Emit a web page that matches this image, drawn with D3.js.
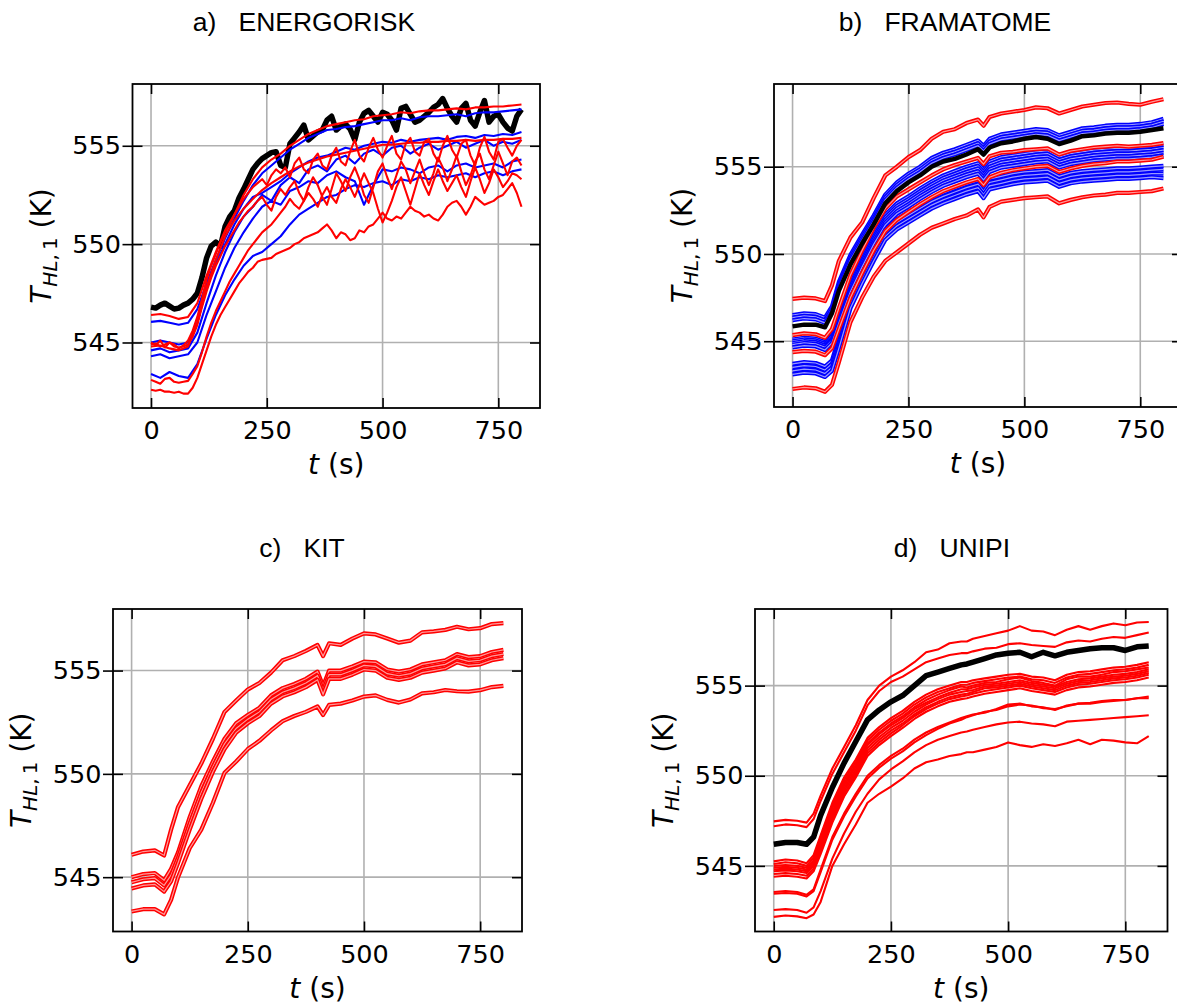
<!DOCTYPE html>
<html>
<meta charset="utf-8">
<script src="https://cdn.jsdelivr.net/npm/d3@7/dist/d3.min.js"></script>
<style>
body{ margin:0; background:white; }
.tick text{ font-family:"DejaVu Sans"; font-size:25.5px; fill:black; }
.title{ font-family:"Liberation Sans", Arial; font-size:26.5px; white-space:pre; }
.axlabel{ font-family:"DejaVu Sans"; font-size:28px; }
</style>
<body>
<div id="fig"></div>

<script>
// time grids (s)
var tA10 = [0,10,20,30,40,50,60,70,80,90,100,110,120,130,140,150,160,170,180,190,200,210,220,230,240,250,260,270,280,290,300,310,320,330,340,350,360,370,380,390,400,410,420,430,440,450,460,470,480,490,500,510,520,530,540,550,560,570,580,590,600,610,620,630,640,650,660,670,680,690,700,710,720,730,740,750,760,770,780,790,800];
var tA = [0,20,40,60,80,100,120,140,160,180,200,220,240,260,280,300,320,340,360,380,400,420,440,460,480,500,520,540,560,580,600,620,640,660,680,700,720,740,760,780,800];
var tG = [0,25,50,70,85,100,125,150,175,200,225,250,275,300,325,350,375,400,412,425,450,475,500,525,550,575,600,625,650,675,700,725,750,775,800];

var xTicks = [0,250,500,750];
var yTicks = [545,550,555];
var xLimits = [-40,840];
var titles = ["a)   ENERGORISK","b)   FRAMATOME","c)   KIT","d)   UNIPI"];

// ---- a) ENERGORISK
var aBlack = [546.8,546.75,546.9,547.0,546.85,546.7,546.75,546.9,547.0,547.2,547.5,548.3,549.3,549.9,550.1,549.9,550.9,551.4,551.7,552.35,552.8,553.3,553.8,554.1,554.35,554.5,554.65,554.7,554.0,553.9,555.1,555.4,555.7,556.05,555.3,555.5,555.7,555.8,556.3,556.5,555.8,556.0,556.1,555.85,555.3,556.2,556.65,556.8,556.5,556.2,556.7,556.6,556.3,555.8,556.9,557.0,556.6,556.2,556.3,556.5,556.7,556.95,557.1,557.4,556.9,556.5,556.2,556.9,557.15,556.3,556.0,556.7,557.3,556.2,556.5,556.6,556.2,555.9,555.75,556.5,556.85];
var aRed1 = [546.4,546.45,546.35,546.2,546.3,547.0,548.4,549.6,550.7,551.5,552.5,553.3,553.9,554.3,554.6,555.0,555.3,555.6,555.8,556.0,556.1,556.2,556.3,556.35,556.5,556.55,556.6,556.7,556.65,556.75,556.8,556.8,556.85,556.9,556.85,556.95,556.95,557.0,557.0,557.05,557.1];
var aRed2 = [545.0,544.85,545.1,544.75,545.0,544.9,544.7,544.85,545.1,545.6,546.3,547.2,548.2,548.9,549.5,550.1,550.6,551.0,551.5,551.9,552.3,552.6,552.9,553.1,553.3,553.0,553.5,553.8,553.6,553.9,553.4,554.1,554.4,553.8,553.6,554.3,554.6,554.0,553.8,554.5,554.9,554.2,554.0,554.7,555.3,554.5,554.2,554.9,555.4,554.8,554.4,555.0,555.5,554.6,554.3,555.1,555.4,554.7,554.5,555.2,555.35,554.6,554.2,555.0,555.5,554.8,554.4,555.1,555.3,554.5,554.0,554.9,555.45,554.7,554.3,555.2,555.35,554.9,554.5,555.0,555.3];
var aRed3 = [544.8,544.85,544.7,544.6,544.8,546.0,547.8,549.2,550.4,551.2,551.8,552.3,552.75,553.1,553.4,553.7,553.95,554.15,554.3,554.45,554.55,554.65,554.75,554.85,554.95,555.05,555.05,555.1,555.15,555.15,555.2,555.2,555.25,555.25,555.3,555.25,555.3,555.3,555.35,555.35,555.4];
var aRed4 = [543.1,543.0,542.9,543.15,543.2,543.0,542.95,543.0,543.05,543.4,543.8,544.5,545.3,546.0,546.6,547.1,547.6,548.1,548.5,548.9,549.3,549.7,550.0,550.3,550.6,550.8,551.0,551.3,551.6,551.9,552.3,552.0,551.8,552.2,552.6,552.3,551.9,552.5,552.9,552.4,552.1,552.8,553.3,552.9,552.4,553.0,553.6,553.1,552.6,551.8,551.1,551.6,552.2,552.9,553.4,552.7,552.0,552.8,553.6,553.0,552.5,553.2,553.8,553.2,552.7,553.1,553.5,552.9,552.4,553.2,553.9,553.3,552.6,553.1,553.8,553.4,552.9,553.2,553.6,553.5,553.3];
var aRed5 = [542.6,542.55,542.6,542.5,542.5,542.45,542.5,542.4,542.4,542.7,543.2,543.9,544.6,545.3,545.9,546.4,546.8,547.2,547.6,548.0,548.3,548.6,548.8,549.1,549.2,549.25,549.3,549.5,549.6,549.7,549.8,550.0,550.1,550.3,550.4,550.5,550.6,550.8,551.0,550.7,550.3,550.6,550.5,550.2,550.3,550.7,550.6,550.9,551.0,551.3,551.6,551.3,551.2,551.4,551.3,551.6,551.9,551.7,551.6,551.4,551.5,551.3,551.2,551.5,551.9,552.1,552.2,551.9,551.5,551.9,552.4,552.2,552.0,552.1,552.2,552.4,552.5,552.8,553.1,552.6,551.9];
var aRed6 = [544.9,544.95,544.8,544.9,545.0,544.8,544.75,544.8,544.9,545.3,545.9,546.8,547.6,548.3,548.9,549.4,549.9,550.3,550.7,551.1,551.4,551.7,551.9,552.2,552.4,552.0,551.7,552.4,552.8,552.5,552.9,553.2,552.6,552.2,552.9,553.4,553.0,552.4,552.0,552.8,553.6,553.2,552.7,553.4,553.9,553.3,552.5,552.1,552.9,553.7,554.1,553.4,552.8,553.5,554.2,553.8,553.1,553.7,554.3,553.6,553.0,553.6,554.4,553.9,553.2,553.8,554.5,553.7,553.0,553.5,554.2,554.6,553.8,553.3,554.0,554.7,554.1,553.5,554.2,554.4,554.0];
var aBlue1 = [546.05,546.1,546.0,545.9,546.0,546.7,548.0,549.2,550.3,551.3,552.2,553.0,553.6,554.0,554.4,554.8,555.1,555.4,555.6,555.8,555.85,555.95,556.0,556.1,556.2,556.3,556.3,556.4,556.3,556.45,556.5,556.5,556.55,556.6,556.5,556.65,556.7,556.7,556.75,556.8,556.85];
var aBlue2 = [545.0,545.1,545.0,544.9,545.0,546.0,547.8,549.0,550.0,551.0,551.8,552.4,552.6,552.9,553.2,553.6,553.9,554.2,554.4,554.5,554.7,554.9,554.8,555.0,555.1,555.2,555.15,555.3,555.2,555.3,555.35,555.4,555.3,555.45,555.5,555.4,555.55,555.5,555.6,555.55,555.7];
var aBlue3 = [544.6,544.7,544.5,544.6,544.7,545.5,547.0,548.4,549.6,550.6,551.4,551.9,552.5,552.2,553.0,553.4,553.1,553.8,554.0,553.7,554.3,554.5,554.1,554.6,554.8,554.5,554.9,555.0,554.6,554.9,555.1,554.8,555.0,555.2,554.9,555.1,555.3,555.0,555.2,555.1,555.3];
var aBlue4 = [544.3,544.4,544.2,544.3,544.4,545.0,546.4,547.6,548.8,549.8,550.6,551.3,551.9,552.2,552.0,552.7,552.9,553.2,553.1,553.5,553.7,553.4,553.2,552.0,553.0,553.8,553.7,553.9,553.8,553.6,553.9,554.0,553.7,554.0,554.1,553.9,554.0,554.1,553.9,554.2,554.3];
var aBlue5 = [543.4,543.2,543.5,543.3,543.2,543.9,545.2,546.4,547.4,548.2,548.9,549.4,549.6,550.0,550.4,551.0,551.5,551.8,552.1,552.4,552.5,552.8,553.0,552.9,553.1,553.2,553.0,553.3,553.2,553.4,553.3,553.5,553.4,553.5,553.6,553.4,553.6,553.7,553.5,553.7,553.8];

// ---- b) FRAMATOME (on tG)
var bBlack = [545.85,545.95,545.95,545.8,546.6,547.9,549.4,550.6,551.7,552.9,553.6,554.1,554.5,555.0,555.3,555.45,555.7,556.0,555.7,556.1,556.35,556.45,556.6,556.7,556.6,556.3,556.5,556.75,556.8,556.9,556.95,556.95,557.0,557.1,557.2];
var bRed1 = [547.43,547.5,547.45,547.3,548.2,549.6,550.95,551.8,553.2,554.5,555.0,555.55,555.95,556.6,557.0,557.15,557.5,557.7,557.35,557.85,558.05,558.15,558.25,558.4,558.35,558.05,558.25,558.45,558.55,558.65,558.68,558.6,558.55,558.72,558.87];
var bRed2 = [545.35,545.45,545.4,545.2,545.7,546.9,548.8,550.2,551.5,552.6,553.3,553.7,554.1,554.5,554.85,555.1,555.3,555.5,555.15,555.6,555.8,555.85,555.95,556.0,556.05,555.7,555.9,556.0,556.1,556.15,556.2,556.15,556.2,556.25,556.35];
var bRed3 = [544.37,544.45,544.4,544.2,544.6,545.7,547.5,548.9,550.2,551.3,551.95,552.4,552.85,553.25,553.6,553.85,554.1,554.3,553.95,554.4,554.65,554.8,554.9,555.0,555.05,554.7,554.9,555.05,555.15,555.2,555.3,555.3,555.35,555.4,555.57];
var bRed4 = [542.26,542.35,542.3,542.1,542.5,543.8,546.1,547.5,548.7,549.6,550.1,550.6,551.1,551.5,551.75,552.0,552.2,552.55,552.1,552.7,553.0,553.1,553.2,553.25,553.3,552.9,553.1,553.25,553.35,553.4,553.5,553.5,553.55,553.6,553.75];
var bBlue1 = [546.5,546.6,546.55,546.35,547.0,548.4,549.95,551.1,552.2,553.4,554.1,554.6,555.0,555.5,555.8,556.0,556.25,556.5,556.2,556.6,556.85,556.95,557.05,557.15,557.1,556.8,557.0,557.2,557.25,557.35,557.4,557.4,557.45,557.55,557.75];
var bBlue2 = [546.35,546.45,546.4,546.2,546.85,548.25,549.8,550.95,552.05,553.25,553.95,554.45,554.85,555.35,555.65,555.85,556.1,556.35,556.05,556.45,556.7,556.8,556.9,557.0,556.95,556.65,556.85,557.05,557.1,557.2,557.25,557.25,557.3,557.4,557.6];
var bBlue3 = [546.2,546.3,546.25,546.05,546.7,548.1,549.65,550.8,551.9,553.1,553.8,554.3,554.7,555.2,555.5,555.7,555.95,556.2,555.9,556.3,556.55,556.65,556.75,556.85,556.8,556.5,556.7,556.9,556.95,557.05,557.1,557.1,557.15,557.25,557.45];
var bBlue4 = [545.1,545.2,545.15,544.95,545.4,546.6,548.45,549.85,551.15,552.25,552.9,553.3,553.75,554.15,554.5,554.75,555.0,555.2,554.85,555.3,555.55,555.65,555.75,555.85,555.9,555.55,555.75,555.85,555.95,556.0,556.05,556.05,556.1,556.15,556.25];
var bBlue5 = [545.0,545.1,545.05,544.85,545.3,546.5,548.3,549.7,551.0,552.1,552.75,553.15,553.6,554.0,554.35,554.6,554.85,555.05,554.7,555.15,555.4,555.5,555.6,555.7,555.75,555.4,555.6,555.7,555.8,555.85,555.9,555.9,555.95,556.0,556.1];
var bBlue6 = [544.9,545.0,544.95,544.75,545.15,546.35,548.15,549.55,550.85,551.95,552.6,553.0,553.45,553.85,554.2,554.45,554.7,554.9,554.55,555.0,555.25,555.35,555.45,555.55,555.6,555.25,555.45,555.55,555.65,555.7,555.75,555.75,555.8,555.85,555.95];
var bBlue7 = [544.8,544.9,544.85,544.65,545.05,546.2,548.0,549.4,550.7,551.8,552.45,552.85,553.3,553.7,554.05,554.3,554.55,554.75,554.4,554.85,555.1,555.2,555.3,555.4,555.45,555.1,555.3,555.4,555.5,555.55,555.6,555.6,555.65,555.7,555.8];
var bBlue8 = [544.65,544.75,544.7,544.5,544.9,546.05,547.85,549.25,550.55,551.65,552.3,552.7,553.15,553.55,553.9,554.15,554.4,554.6,554.25,554.7,554.95,555.05,555.15,555.25,555.3,554.95,555.15,555.25,555.35,555.4,555.45,555.45,555.5,555.55,555.65];
var bBlue9 = [543.7,543.8,543.75,543.55,543.9,545.2,547.5,548.9,550.2,551.4,552.0,552.4,552.8,553.2,553.5,553.75,554.0,554.2,553.8,554.3,554.45,554.6,554.7,554.75,554.8,554.45,554.65,554.75,554.8,554.85,554.9,554.9,554.95,555.0,555.05];
var bBlue10 = [543.5,543.6,543.55,543.35,543.7,545.0,547.3,548.7,550.0,551.2,551.8,552.2,552.6,553.0,553.3,553.55,553.8,554.0,553.6,554.1,554.25,554.4,554.5,554.55,554.6,554.25,554.45,554.55,554.6,554.65,554.7,554.7,554.75,554.8,554.85];
var bBlue11 = [543.3,543.4,543.35,543.15,543.5,544.8,547.1,548.5,549.8,551.0,551.6,552.0,552.4,552.8,553.1,553.35,553.6,553.8,553.4,553.9,554.05,554.2,554.3,554.35,554.4,554.05,554.25,554.35,554.4,554.45,554.5,554.5,554.55,554.6,554.6];
var bBlue12 = [543.1,543.2,543.15,542.95,543.3,544.6,546.9,548.3,549.6,550.8,551.4,551.8,552.2,552.6,552.9,553.15,553.4,553.6,553.2,553.7,553.85,554.0,554.1,554.15,554.2,553.85,554.05,554.15,554.2,554.25,554.3,554.3,554.35,554.4,554.35];

// ---- c) KIT (on tG)
var cTop = [546.08,546.24,546.3,546.05,547.3,548.4,549.45,550.5,551.7,553.0,553.55,554.08,554.4,554.9,555.5,555.7,555.95,556.24,555.7,556.32,556.24,556.55,556.8,556.75,556.55,556.35,556.45,556.85,556.9,556.97,557.12,557.0,557.05,557.25,557.3];
var cMid1 = [545.0,545.15,545.2,544.85,545.4,546.2,547.9,549.4,550.6,551.7,552.45,552.85,553.2,553.8,554.15,554.35,554.6,554.95,554.25,555.0,555.0,555.2,555.43,555.4,555.05,554.95,555.05,555.3,555.4,555.5,555.8,555.65,555.7,555.9,556.0];
var cMid2 = [544.75,544.9,544.95,544.6,545.1,545.95,547.6,549.1,550.35,551.45,552.2,552.65,553.0,553.6,553.95,554.15,554.4,554.75,554.05,554.8,554.8,555.0,555.25,555.2,554.85,554.75,554.85,555.1,555.2,555.3,555.6,555.45,555.5,555.7,555.8];
var cMid3 = [544.45,544.6,544.65,544.3,544.8,545.7,547.3,548.8,550.1,551.2,552.0,552.45,552.8,553.4,553.75,553.95,554.2,554.55,553.85,554.6,554.6,554.8,555.05,555.0,554.65,554.55,554.65,554.9,555.0,555.1,555.4,555.25,555.3,555.5,555.6];
var cBot = [543.34,543.45,543.45,543.2,543.9,545.0,546.4,547.3,548.6,550.05,550.6,551.2,551.6,552.1,552.55,552.8,553.0,553.26,552.85,553.34,553.4,553.55,553.74,553.8,553.58,553.45,553.6,553.9,553.95,554.06,554.0,553.98,554.05,554.2,554.26];

// ---- d) UNIPI (on tG)
var dBlack = [546.2,546.3,546.3,546.2,546.6,547.8,549.35,550.7,551.9,553.1,553.65,554.1,554.45,555.0,555.55,555.75,555.95,556.15,556.2,556.3,556.5,556.7,556.8,556.85,556.6,556.85,556.65,556.85,556.95,557.05,557.1,557.1,556.95,557.15,557.2];
var dRed1 = [547.47,547.55,547.5,547.4,547.9,548.9,550.4,551.6,552.8,554.2,555.0,555.5,555.85,556.3,556.85,557.0,557.35,557.45,557.45,557.6,557.75,557.9,558.05,558.3,558.05,558.0,557.8,558.1,558.3,558.1,558.3,558.45,558.35,558.5,558.53];
var dRed2 = [547.2,547.3,547.25,547.15,547.6,548.6,550.1,551.3,552.5,553.9,554.7,555.2,555.5,555.9,556.3,556.5,556.7,556.8,556.8,556.9,557.05,557.1,557.3,557.35,557.25,557.2,557.15,557.4,557.5,557.45,557.6,557.7,557.65,557.8,557.95];
var dRed3 = [545.25,545.35,545.3,545.15,545.6,546.7,548.5,549.9,550.9,552.1,552.7,553.2,553.6,554.1,554.5,554.8,555.0,555.2,555.2,555.3,555.4,555.5,555.6,555.65,555.5,555.45,555.3,555.6,555.75,555.8,555.9,556.0,556.05,556.15,556.3];
var dRed4 = [545.1,545.2,545.15,545.0,545.45,546.55,548.35,549.75,550.75,551.95,552.55,553.05,553.45,553.95,554.35,554.65,554.85,555.05,555.05,555.15,555.25,555.35,555.45,555.5,555.35,555.3,555.15,555.45,555.6,555.65,555.75,555.85,555.9,556.0,556.15];
var dRed5 = [545.0,545.05,545.0,544.9,545.3,546.4,548.2,549.6,550.6,551.8,552.4,552.9,553.3,553.8,554.2,554.5,554.75,554.95,554.9,555.0,555.15,555.2,555.35,555.45,555.25,555.15,555.0,555.35,555.5,555.5,555.6,555.75,555.8,555.9,556.0];
var dRed6 = [544.9,544.95,544.9,544.8,545.2,546.25,548.0,549.45,550.5,551.7,552.3,552.8,553.2,553.7,554.05,554.35,554.6,554.8,554.8,554.9,555.05,555.1,555.2,555.3,555.15,555.05,554.95,555.2,555.35,555.4,555.5,555.6,555.65,555.75,555.9];
var dRed7 = [544.8,544.85,544.8,544.7,545.1,546.1,547.85,549.3,550.35,551.55,552.15,552.65,553.05,553.55,553.95,554.25,554.5,554.65,554.7,554.75,554.95,555.0,555.1,555.2,555.05,554.95,554.85,555.1,555.25,555.3,555.4,555.5,555.55,555.65,555.8];
var dRed8 = [544.7,544.75,544.7,544.6,545.0,545.95,547.7,549.15,550.2,551.4,552.0,552.5,552.9,553.4,553.8,554.1,554.35,554.5,554.55,554.65,554.85,554.9,555.0,555.1,554.95,554.85,554.75,555.0,555.15,555.2,555.3,555.4,555.45,555.55,555.7];
var dRed9 = [544.55,544.6,544.55,544.45,544.85,545.8,547.55,549.0,550.05,551.25,551.85,552.35,552.8,553.3,553.7,554.0,554.25,554.4,554.45,554.55,554.7,554.8,554.9,555.0,554.85,554.75,554.65,554.9,555.05,555.1,555.2,555.3,555.35,555.45,555.6];
var dRed10 = [544.4,544.45,544.4,544.3,544.7,545.65,547.4,548.85,549.9,551.1,551.7,552.2,552.65,553.15,553.55,553.85,554.1,554.25,554.3,554.4,554.55,554.65,554.75,554.85,554.7,554.6,554.5,554.75,554.9,554.95,555.05,555.15,555.2,555.3,555.45];
var dRed11 = [543.55,543.6,543.55,543.4,543.7,544.8,546.6,547.9,549.0,550.0,550.6,551.1,551.5,552.0,552.4,552.7,552.95,553.2,553.3,553.4,553.5,553.7,553.95,554.0,553.85,553.8,553.65,553.9,554.0,554.0,554.1,554.15,554.2,554.3,554.4];
var dRed12 = [543.45,543.5,543.45,543.3,543.6,544.65,546.45,547.75,548.85,549.85,550.45,550.95,551.35,551.85,552.25,552.6,552.9,553.1,553.25,553.35,553.55,553.65,553.85,553.95,553.9,553.75,553.7,553.85,554.0,554.05,554.15,554.2,554.2,554.3,554.3];
var dRed13 = [542.55,542.6,542.55,542.4,542.7,543.6,545.4,546.8,548.0,549.0,549.8,550.35,550.8,551.3,551.7,552.0,552.2,552.4,552.45,552.55,552.7,552.85,552.95,553.0,552.9,552.85,552.75,553.0,553.05,553.1,553.15,553.2,553.25,553.3,553.36];
var dRed14 = [542.17,542.25,542.2,542.1,542.3,543.0,545.0,546.2,547.3,548.5,549.0,549.4,549.85,550.4,550.75,550.9,551.1,551.2,551.3,551.3,551.45,551.6,551.85,551.7,551.6,551.75,551.65,551.8,552.0,551.75,552.0,551.95,551.85,551.8,552.2];

// panel frames (px) and axis limits
var panels = [
  {left:132.5, right:540, top:84, bottom:408, yLim:[541.67,558.14], titleX:304, titleY:31, style:"thin",
   series:[{t:tA10,v:aBlack,c:"black",w:5.5},
           {t:tA,v:aBlue1,c:"blue"},{t:tA,v:aBlue2,c:"blue"},{t:tA,v:aBlue3,c:"blue"},{t:tA,v:aBlue4,c:"blue"},{t:tA,v:aBlue5,c:"blue"},
           {t:tA10,v:aRed5,c:"red"},{t:tA10,v:aRed4,c:"red"},{t:tA10,v:aRed6,c:"red"},{t:tA,v:aRed3,c:"red"},{t:tA10,v:aRed2,c:"red"},{t:tA,v:aRed1,c:"red"}]},
  {left:774, right:1182, top:84, bottom:407, yLim:[541.23,559.74], titleX:945, titleY:31, style:"double",
   series:[bBlue1,bBlue2,bBlue3,bBlue4,bBlue5,bBlue6,bBlue7,bBlue8,bBlue9,bBlue10,bBlue11,bBlue12].map(function(v){return {t:tG,v:v,c:"blue"}})
     .concat([bRed1,bRed2,bRed3,bRed4].map(function(v){return {t:tG,v:v,c:"red"}}))
     .concat([{t:tG,v:bBlack,c:"black"}])},
  {left:113, right:522, top:609, bottom:931.5, yLim:[542.37,557.98], titleX:302, titleY:557, style:"double",
   series:[cTop,cMid1,cMid2,cMid3,cBot].map(function(v){return {t:tG,v:v,c:"red"}})},
  {left:755, right:1167.5, top:609, bottom:931.5, yLim:[541.36,559.25], titleX:952, titleY:557, style:"thin",
   series:[dRed1,dRed2,dRed3,dRed4,dRed5,dRed6,dRed7,dRed8,dRed9,dRed10,dRed11,dRed12,dRed13,dRed14].map(function(v){return {t:tG,v:v,c:"red"}})
     .concat([{t:tG,v:dBlack,c:"black",w:5.5}])}
];

var svg = d3.select("#fig").append("svg").attr("width",1177).attr("height",1008);

panels.forEach(function(p, k){
  var x = d3.scaleLinear().domain(xLimits).range([p.left,p.right]);
  var y = d3.scaleLinear().domain(p.yLim).range([p.bottom,p.top]);
  var g = svg.append("g");

  // grid
  g.selectAll(".gx").data(xTicks).enter().append("line")
    .attr("x1",function(d){return x(d)}).attr("x2",function(d){return x(d)})
    .attr("y1",p.top).attr("y2",p.bottom)
    .attr("stroke","#b0b0b0").attr("stroke-width",1.6);
  g.selectAll(".gy").data(yTicks).enter().append("line")
    .attr("y1",function(d){return y(d)}).attr("y2",function(d){return y(d)})
    .attr("x1",p.left).attr("x2",p.right)
    .attr("stroke","#b0b0b0").attr("stroke-width",1.6);

  svg.append("clipPath").attr("id","clip"+k).append("rect")
    .attr("x",p.left).attr("y",p.top).attr("width",p.right-p.left).attr("height",p.bottom-p.top);
  var lg = g.append("g").attr("clip-path","url(#clip"+k+")");

  p.series.forEach(function(s){
    var line = d3.line()
      .x(function(d,i){return x(s.t[i])})
      .y(function(d){return y(d)});
    if (p.style=="double" && s.c!="black"){
      lg.append("path").attr("d",line(s.v)).attr("fill","none")
        .attr("stroke",s.c).attr("stroke-width",4.2).attr("stroke-linejoin","round");
      lg.append("path").attr("d",line(s.v)).attr("fill","none")
        .attr("stroke","white").attr("stroke-opacity",0.6).attr("stroke-width",1.2);
    } else {
      lg.append("path").attr("d",line(s.v)).attr("fill","none")
        .attr("stroke",s.c).attr("stroke-width",s.w || (p.style=="double" ? 4.5 : 2.1))
        .attr("stroke-linejoin","round");
    }
  });

  // axes, ticks pointing in
  g.append("g").attr("transform","translate(0,"+p.bottom+")")
    .call(d3.axisBottom(x).tickValues(xTicks).tickSize(-10).tickPadding(13));
  var ay = g.append("g").attr("transform","translate("+p.left+",0)")
    .call(d3.axisLeft(y).tickValues(yTicks).tickSize(-10).tickPadding(11.5));
  g.append("g").attr("transform","translate(0,"+p.top+")")
    .call(d3.axisTop(x).tickValues(xTicks).tickSize(-10).tickFormat(""));
  g.append("g").attr("transform","translate("+p.right+",0)")
    .call(d3.axisRight(y).tickValues(yTicks).tickSize(-10).tickFormat(""));
  g.selectAll(".domain").remove();
  g.selectAll(".tick line").attr("stroke","black").attr("stroke-width",1.6);
  ay.selectAll(".tick").append("line").attr("x1",-10).attr("x2",0).attr("stroke","black").attr("stroke-width",1.6);

  g.append("rect").attr("x",p.left).attr("y",p.top)
    .attr("width",p.right-p.left).attr("height",p.bottom-p.top)
    .attr("fill","none").attr("stroke","black").attr("stroke-width",1.8);

  // labels
  var xl = g.append("text").attr("class","axlabel").attr("text-anchor","middle")
    .attr("x",x(400)).attr("y",p.bottom+66);
  xl.append("tspan").style("font-style","italic").text("t");
  xl.append("tspan").text(" (s)");

  var yl = g.append("text").attr("class","axlabel").attr("text-anchor","middle")
    .attr("transform","translate("+(p.left-82)+","+((p.top+p.bottom)/2)+") rotate(-90)");
  yl.append("tspan").style("font-style","italic").text("T");
  yl.append("tspan").attr("dy",6).style("font-size","20px").style("font-style","italic").text("HL");
  yl.append("tspan").style("font-size","20px").text(",\u20091");
  yl.append("tspan").attr("dy",-6).text(" (K)");

  g.append("text").attr("class","title").attr("text-anchor","middle")
    .attr("x",p.titleX).attr("y",p.titleY).text(titles[k]);
});
</script>
</body>
</html>
